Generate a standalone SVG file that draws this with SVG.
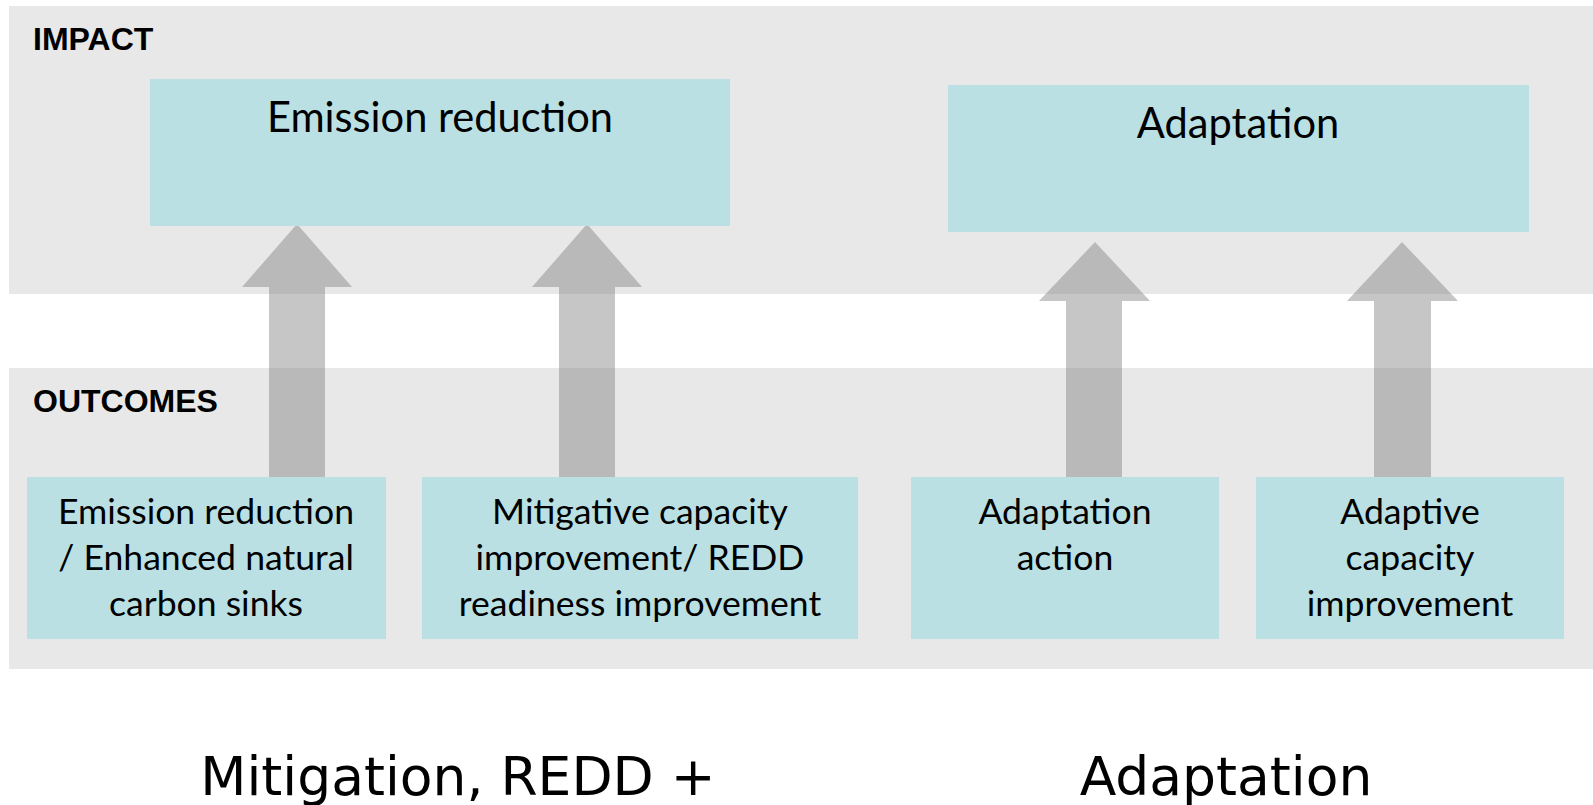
<svg xmlns="http://www.w3.org/2000/svg" width="1593" height="805" viewBox="0 0 1593 805">
<style>
.panel{fill:#e8e8e8}
.box{fill:#bbe0e3}
.hdr{font-family:"Liberation Sans",Arial,sans-serif;font-weight:bold;font-size:32px;fill:#000}
.big{font-family:Lato,"Open Sans",sans-serif;font-size:41.6px;fill:#000;text-anchor:middle}
.sm{font-family:Lato,"Open Sans",sans-serif;font-size:35.6px;fill:#000;text-anchor:middle}
.foot{font-family:"DejaVu Sans",Verdana,sans-serif;font-size:53.5px;fill:#000;text-anchor:middle}
.arrow{fill:#7c7c7c;fill-opacity:0.435}
</style>
<rect width="1593" height="805" fill="#fff"/>
<g id="panel-impact"><rect class="panel" x="9" y="6" width="1584" height="288"/><text class="hdr" x="33" y="50">IMPACT</text></g>
<g id="panel-outcomes"><rect class="panel" x="9" y="368" width="1584" height="301"/><text class="hdr" x="33" y="412">OUTCOMES</text></g>
<g id="connectors">
<polygon class="arrow" points="297,224 352,287 325,287 325,477 269,477 269,287 242,287"/>
<polygon class="arrow" points="587,224 642,287 615,287 615,477 559,477 559,287 532,287"/>
<polygon class="arrow" points="1095,242 1150,301 1122,301 1122,477 1066,477 1066,301 1039,301"/>
<polygon class="arrow" points="1402,242 1458,301 1431,301 1431,477 1374,477 1374,301 1347,301"/>
</g>
<g id="node-emission-reduction"><rect class="box" x="150" y="79" width="580" height="147"/><text class="big" x="440" y="132">Emission reduction</text></g>
<g id="node-adaptation"><rect class="box" x="948" y="85" width="581" height="147"/><text class="big" x="1238" y="138">Adaptation</text></g>
<g id="node-outcome-1"><rect class="box" x="27" y="477" width="359" height="162"/><text class="sm" x="206" y="524">Emission reduction</text><text class="sm" x="206" y="570">/ Enhanced natural</text><text class="sm" x="206" y="616">carbon sinks</text></g>
<g id="node-outcome-2"><rect class="box" x="422" y="477" width="436" height="162"/><text class="sm" x="640" y="524">Mitigative capacity</text><text class="sm" x="640" y="570">improvement/ REDD</text><text class="sm" x="640" y="616">readiness improvement</text></g>
<g id="node-outcome-3"><rect class="box" x="911" y="477" width="308" height="162"/><text class="sm" x="1065" y="524">Adaptation</text><text class="sm" x="1065" y="570">action</text></g>
<g id="node-outcome-4"><rect class="box" x="1256" y="477" width="308" height="162"/><text class="sm" x="1410" y="524">Adaptive</text><text class="sm" x="1410" y="570">capacity</text><text class="sm" x="1410" y="616">improvement</text></g>
<g id="label-mitigation"><text class="foot" x="458" y="795">Mitigation, REDD +</text></g>
<g id="label-adaptation"><text class="foot" x="1226" y="795">Adaptation</text></g>
</svg>
